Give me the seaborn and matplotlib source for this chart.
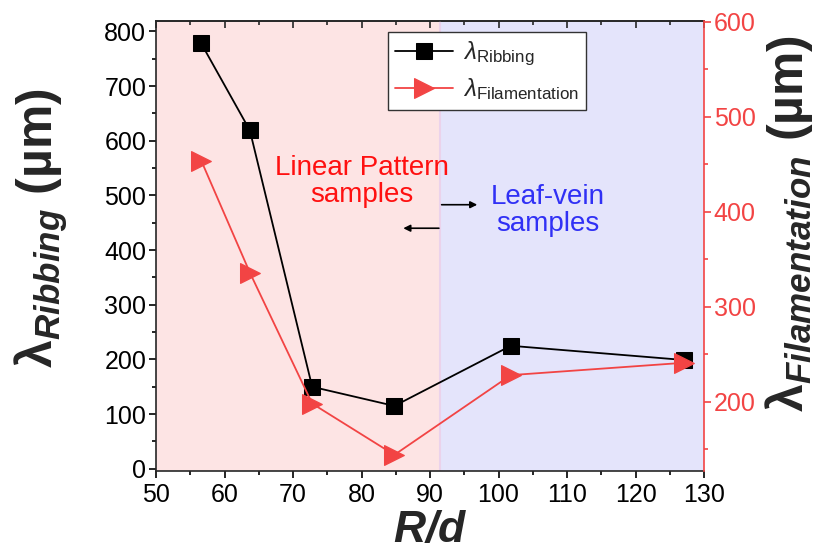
import matplotlib
matplotlib.use("Agg")
import matplotlib.pyplot as plt
from matplotlib.ticker import MultipleLocator
import seaborn as sns

# R/d of each sample and the two measured wavelengths (µm)
rd = [56.6, 63.7, 72.8, 84.8, 101.8, 127.1]
lam_ribbing = [778, 619, 150, 115, 225, 199]
lam_filament = [454, 336, 198, 144, 228, 241]

# boundary between the two pattern regimes
rd_boundary = 91.4

sns.set_theme(style="ticks")
plt.rcParams.update({
    "font.family": ["Liberation Sans", "DejaVu Sans"],
    "mathtext.fontset": "custom",
    "mathtext.rm": "Liberation Sans",
    "mathtext.it": "Liberation Sans:italic",
    "mathtext.bf": "Liberation Sans:bold",
    "mathtext.bfit": "Liberation Sans:italic:bold",
    "axes.linewidth": 1.2,
})

RED = "#F24444"
PINK = "#FDE4E4"
LAVENDER = "#E4E4FB"

fig = plt.figure(figsize=(8.14, 5.53), dpi=100)
ax = fig.add_axes([156 / 814, 1 - 471 / 553, 548 / 814, 450 / 553])
ax2 = ax.twinx()

# shaded regimes
ax.axvspan(50, rd_boundary, color=PINK, zorder=0, lw=0)
ax.axvspan(rd_boundary, 130, color=LAVENDER, zorder=0, lw=0)
ax.axvline(rd_boundary, color="#EBD2EB", lw=1.5, zorder=0.5)

sns.lineplot(x=rd, y=lam_ribbing, ax=ax, color="black", marker="s",
             markersize=12, markeredgecolor="black", linewidth=1.3,
             legend=False, zorder=3)
sns.lineplot(x=rd, y=lam_filament, ax=ax2, color=RED, marker=">",
             markersize=15, markeredgecolor=RED, linewidth=1.3,
             legend=False, zorder=3)

ax.set_xlim(50, 130)
ax.set_ylim(-4, 819)
ax2.set_ylim(127, 601)

ax.xaxis.set_major_locator(MultipleLocator(10))
ax.xaxis.set_minor_locator(MultipleLocator(5))
ax.yaxis.set_major_locator(MultipleLocator(100))
ax.yaxis.set_minor_locator(MultipleLocator(50))
ax2.yaxis.set_major_locator(MultipleLocator(100))
ax2.yaxis.set_minor_locator(MultipleLocator(50))

TICK_FS = 18
ax.tick_params(axis="x", which="both", direction="out", top=False,
               labelsize=TICK_FS, colors="black", pad=4)
ax.tick_params(axis="x", which="major", length=5, width=1.2)
ax.tick_params(axis="x", which="minor", length=3, width=1.2)
ax.tick_params(axis="y", which="both", direction="out", right=False,
               labelsize=TICK_FS, colors="black", pad=2)
ax.tick_params(axis="y", which="major", length=5, width=1.2)
ax.tick_params(axis="y", which="minor", length=3, width=1.2)

# inward ticks along the top edge
sec = ax.secondary_xaxis("top")
sec.xaxis.set_major_locator(MultipleLocator(10))
sec.xaxis.set_minor_locator(MultipleLocator(5))
sec.tick_params(which="both", direction="in", labeltop=False, width=1.2)
sec.tick_params(which="major", length=5)
sec.tick_params(which="minor", length=3)
sec.spines["top"].set_linewidth(1.2)

ax2.tick_params(axis="y", which="both", direction="out", colors=RED,
                labelsize=TICK_FS, pad=2, width=1.2)
ax2.tick_params(axis="y", which="major", length=5)
ax2.tick_params(axis="y", which="minor", length=3)
ax2.spines["right"].set_color(RED)
ax.spines["right"].set_visible(False)
for s in ("left", "bottom", "top"):
    ax2.spines[s].set_visible(False)

ax.set_xlabel(r"$\mathbfit{R/d}$", fontsize=32, labelpad=2)
ax.set_ylabel(r"$\mathbf{\lambda}_{\mathbfit{Ribbing}}$ (µm)", fontsize=36,
              fontweight="bold")
ax.yaxis.set_label_coords(-0.157, 0.54)
ax2.set_ylabel(r"$\mathbf{\lambda}_{\mathbfit{Filamentation}}$ (µm)",
               fontsize=36, fontweight="bold", rotation=90)
ax2.yaxis.set_label_coords(1.108, 0.55)

# regime annotations
ax.text(80.1, 526, "Linear Pattern\nsamples", color="#FF1010", fontsize=20,
        ha="center", va="center", linespacing=1.05, zorder=4)
ax.text(107.2, 473, "Leaf-vein\nsamples", color="#3030F5", fontsize=20,
        ha="center", va="center", linespacing=1.05, zorder=4)
arrow_kw = dict(arrowstyle="-|>", color="black", lw=1.2, mutation_scale=10,
                shrinkA=0, shrinkB=0)
ax.annotate("", xy=(96.9, 483), xytext=(91.7, 483), arrowprops=arrow_kw, zorder=4)
ax.annotate("", xy=(86.1, 440), xytext=(91.3, 440), arrowprops=arrow_kw, zorder=4)

handles = [ax.lines[-1], ax2.lines[-1]]
labels = [r"$\lambda_{\mathrm{Ribbing}}$", r"$\lambda_{\mathrm{Filamentation}}$"]
leg = ax2.legend(handles, labels, loc="upper left",
                 bbox_to_anchor=(0.423, 0.975), fontsize=17.5, frameon=True,
                 fancybox=False, edgecolor="#333333", framealpha=1,
                 handlelength=2.4, borderpad=0.3, labelspacing=0.35,
                 handletextpad=0.4, borderaxespad=0)
leg.get_frame().set_linewidth(1.0)

fig.savefig("out.png", dpi=100)
